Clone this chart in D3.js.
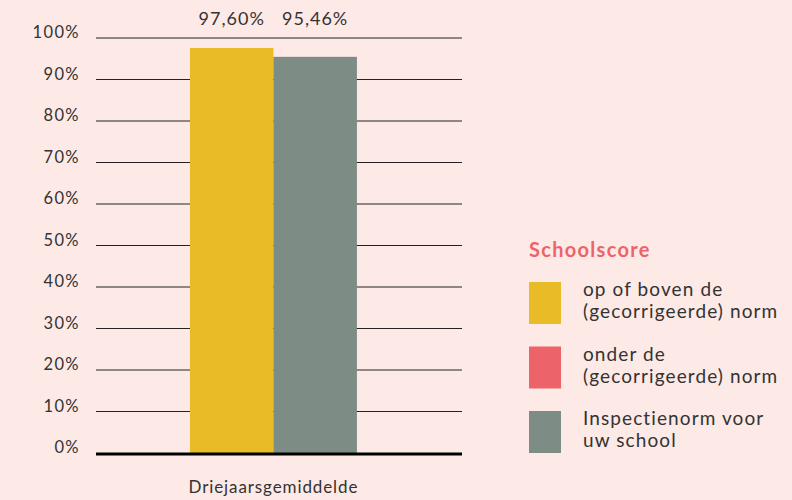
<!DOCTYPE html>
<html><head><meta charset="utf-8">
<script src="https://cdn.jsdelivr.net/npm/d3@7"></script>
<style>html,body{margin:0;padding:0;background:#fde9e6;}svg{display:block;font-family:Lato,"Open Sans",sans-serif;}</style>
</head><body><svg id="c" width="792" height="500"></svg>
<script>
const categories = ["Driejaarsgemiddelde"];
const seriesNames = ["Schoolscore", "Inspectienorm"];
const seriesValues = [97.60, 95.46];
const valueLabels = ["97,60%", "95,46%"];
const tickValues = [0,10,20,30,40,50,60,70,80,90,100];
const legendTitle = "Schoolscore";
const legendItems = [
  {lines:["op of boven de","(gecorrigeerde) norm"], color:"#e9bc27"},
  {lines:["onder de","(gecorrigeerde) norm"], color:"#ec6469"},
  {lines:["Inspectienorm voor","uw school"], color:"#7d8c85"}
];
const barColors = ["#e9bc27","#7d8c85"];

(function(){
const svg = d3.select("#c");
const mL = 96, mR = 462, mT = 38, mB = 453;
const y = d3.scaleLinear().domain([0,100]).range([mB, mT]);
const x0 = d3.scaleBand().domain(categories).range([mL, mR]).paddingInner(0).paddingOuter(0.596).align(0.472);
const x1 = d3.scaleBand().domain(seriesNames).range([0, x0.bandwidth()]);

// gridlines
svg.append("g").selectAll("line").data(tickValues.filter(d=>d>0)).join("line")
  .attr("x1", mL).attr("x2", mR).attr("y1", d=>y(d)).attr("y2", d=>y(d))
  .attr("stroke", "#222").attr("stroke-width", 1);

// tick labels
const yAxis = d3.axisLeft(y).tickValues(tickValues).tickFormat(d=>d+"%").tickSize(0).tickPadding(16);
const ga = svg.append("g").attr("transform", `translate(${mL},0)`).call(yAxis);
ga.select(".domain").remove();
ga.selectAll("text").attr("font-size", 16.5).attr("letter-spacing", 1.4).attr("fill", "#333")
  .attr("font-family", "Lato, sans-serif").attr("dy","-0.02em");

// bars
const g = svg.append("g");
seriesNames.forEach((s,i)=>{
  const bx = x0(categories[0]) + x1(s);
  g.append("rect").attr("x", bx).attr("width", x1.bandwidth())
    .attr("y", y(seriesValues[i])).attr("height", y(0)-y(seriesValues[i]))
    .attr("fill", barColors[i]);
  svg.append("text").attr("x", bx + x1.bandwidth()/2).attr("y", 25)
    .attr("text-anchor","middle").attr("font-size",18).attr("letter-spacing",1).attr("fill","#333").text(valueLabels[i]);
});

// baseline
svg.append("line").attr("x1", mL).attr("x2", mR).attr("y1", y(0)+1).attr("y2", y(0)+1)
  .attr("stroke","#000").attr("stroke-width",3);

// category label
svg.append("text").attr("x", x0(categories[0]) + x0.bandwidth()/2).attr("y", 493)
  .attr("text-anchor","middle").attr("font-size",17).attr("letter-spacing",0.9).attr("fill","#333").text(categories[0]);

// legend
const lg = svg.append("g").attr("transform","translate(529,0)");
lg.append("text").attr("x",0).attr("y",257).attr("font-size",20).attr("font-weight","bold").attr("letter-spacing",1.3)
  .attr("fill","#ec6469").text(legendTitle);
legendItems.forEach((it,i)=>{
  const sy = 282 + i*64.5;
  lg.append("rect").attr("x",0).attr("y",sy).attr("width",32).attr("height",42).attr("fill",it.color);
  it.lines.forEach((ln,j)=>{
    lg.append("text").attr("x",54).attr("y",sy+14+j*22).attr("font-size",19).attr("letter-spacing",1.1).attr("fill","#333").text(ln);
  });
});
})();
</script></body></html>
